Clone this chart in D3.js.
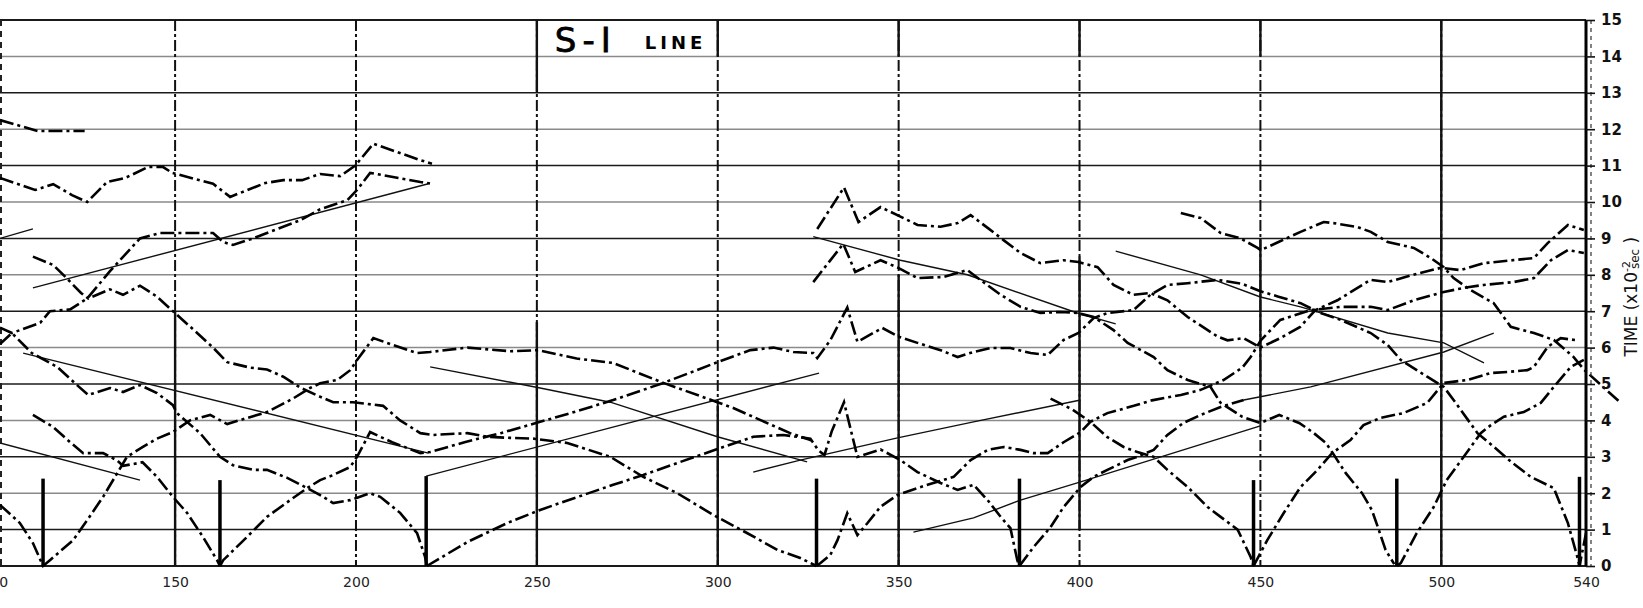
<!DOCTYPE html>
<html>
<head>
<meta charset="utf-8">
<script src="https://cdn.jsdelivr.net/npm/d3@7"></script>
<style>
  body { margin: 0; background: #fff; }
  svg { display: block; }
  .x-axis text { font-family: "DejaVu Sans", sans-serif; font-size: 14px; fill: #222; }
  .y-axis text { font-family: "DejaVu Sans", sans-serif; font-size: 15px; font-weight: bold; fill: #111; }
</style>
</head>
<body>
<svg id="chart"></svg>
<script>
// distance ticks along the bottom, time ticks on the right
const xTicks = [100, 150, 200, 250, 300, 350, 400, 450, 500, 540];
const yTicks = d3.range(0, 16);
const gridX = [150, 200, 250, 300, 350, 400, 450, 500];

// short vertical marks at the bottom (shot points)
const markX = [113.5, 162.4, 219.4, 327.3, 383.4, 448.1, 487.7, 538.2];
const markTop = [2.4, 2.36, 2.47, 2.4, 2.4, 2.36, 2.4, 2.45];

// observed arrivals (dash-dot curves), [distance, time]
const arrA = [[101.6,12.25],[112,11.95],[125,11.95]];
const arrB = [[101.6,10.66],[111.3,10.33],[116.3,10.49],[121.5,10.19],[125.7,10.0],[131.2,10.55],[136.2,10.66],[142.5,10.96],[146.7,10.96],[149.2,10.8],[160.5,10.5],[165.2,10.14],[174.9,10.52],[179.9,10.6],[185.1,10.6],[190.1,10.77],[195.6,10.71],[199.8,11.0],[204.8,11.6],[217.8,11.15],[221,11.05]];
const arrD = [[101.6,6.55],[104.9,6.4],[112.7,6.68],[115.4,7.0],[121,7.05],[125.7,7.35],[132,8.1],[140.3,9.0],[145.9,9.15],[150.5,9.15],[160.5,9.15],[163.3,8.9],[166,8.82],[171.6,9.0],[175.4,9.15],[184.6,9.5],[190.1,9.8],[197.6,10.05],[200.3,10.33],[203.9,10.8],[217.8,10.55],[221,10.5]];
const arrE = [[110.7,8.5],[116.3,8.27],[120.1,7.9],[124,7.5],[126,7.35],[132,7.6],[135.6,7.45],[140.3,7.7],[145,7.4],[149.4,7.0],[155,6.5],[160.5,6.0],[164.4,5.6],[170.7,5.45],[175.4,5.4],[179.9,5.2],[184.6,4.9],[190.1,4.65],[193.7,4.5],[199.2,4.5],[207.5,4.4],[212.2,4.0],[217.8,3.65],[221.3,3.6],[230.8,3.65],[236.3,3.55],[242.6,3.52],[249,3.5],[258.4,3.38],[270.3,3.0],[279.4,2.45],[288.8,2.0],[298.8,1.4],[308.2,0.9],[316.5,0.44],[322.8,0.22],[327.3,0]];
const arrF = [[101.6,6.1],[104.9,6.4],[110.4,5.85],[117.4,5.47],[122.9,4.97],[126,4.7],[132,4.89],[135.6,4.78],[140.3,4.97],[145,4.75],[149.4,4.42],[150.5,4.2],[156.9,3.65],[162.4,3.0],[166,2.77],[171.6,2.64],[175.4,2.64],[181,2.42],[186.5,2.14],[190.1,1.95],[193.7,1.73],[198.4,1.81],[203.9,2.0],[206.7,1.9],[212.2,1.46],[216.9,0.9],[219.1,0.25],[219.6,0]];
const arrG = [[110.7,4.15],[116.3,3.82],[121,3.4],[124.6,3.1],[130.1,3.1],[134,2.9],[135.6,2.75],[141,2.85],[145,2.45],[149.4,1.9],[153.3,1.46],[157.7,0.8],[161.6,0.16],[162.4,0]];
const arrH = [[101.6,1.68],[107.1,1.18],[110.7,0.63],[113.5,0],[115.4,0.16],[121.8,0.71],[125.7,1.26],[130.1,1.9],[134,2.55],[136.7,3.0],[141.1,3.27],[145,3.5],[149.4,3.68],[154.1,4.0],[159.7,4.15],[164.4,3.9],[170,4.07],[175.4,4.23],[182.6,4.6],[187.3,4.89],[190.1,5.02],[194.8,5.11],[198.4,5.38],[200.3,5.66],[204.8,6.26],[210.3,6.07],[216.9,5.85],[220.5,5.88],[230.8,6.0],[242.6,5.9],[250.4,5.93],[261,5.7],[271,5.58],[285,5.03],[299.9,4.5],[304.3,4.34],[312,4.0],[320,3.65],[326,3.45]];
const arrJ = [[162.4,0],[163.3,0.16],[169.9,0.8],[175.4,1.35],[181.8,1.81],[186.5,2.14],[190.1,2.36],[193.7,2.5],[198.4,2.72],[200.3,3.0],[203.9,3.68],[210,3.4],[217.8,3.1],[220.5,3.13],[230,3.4],[240,3.65],[250.9,3.96],[261,4.25],[271.1,4.56],[285,5.03],[299.9,5.6],[309,5.93],[315.4,6.0],[320.9,5.88],[326.4,5.85],[327.5,5.71],[331.1,6.2],[335.8,7.1],[338.6,6.16],[345.5,6.54],[350,6.3],[355.2,6.13],[361.6,5.93],[366.3,5.74],[370.7,5.88],[375.4,5.99],[380.9,5.99],[386.5,5.85],[391.2,5.8],[395.6,6.21],[399.7,6.4],[403.9,6.81],[407.7,6.95],[414.9,7.03],[419.6,7.45],[424.3,7.72],[429.9,7.77],[438.2,7.86],[445,7.75],[450,7.55],[455,7.4],[461.1,7.22],[466.6,6.95],[472.2,6.76],[480.5,6.4],[485.2,6.07],[488.8,5.66],[496.1,5.2],[500.7,4.92],[503.4,4.56],[510,3.65],[514.6,3.27],[519.3,2.86],[524.7,2.45],[531.1,2.14],[535,1.18],[537.6,0.25],[538.2,0],[540,0.9]];
const arrK = [[219.6,0],[230.8,0.66],[241.8,1.18],[250.9,1.54],[262.8,1.95],[271.1,2.23],[279.4,2.5],[288.8,2.83],[300.7,3.24],[309.8,3.55],[318.1,3.6],[325.6,3.5],[327.8,3.18],[329.5,3.05],[331.5,3.7],[334.9,4.5],[338.6,3.0],[345,3.2],[350.5,2.91],[355.2,2.58],[361.6,2.28],[366.3,2.09],[370.7,2.23],[374.6,1.81],[378.2,1.35],[380.9,1.04],[382.8,0.16],[383.4,0]];
const arrM = [[327.3,0],[328.4,0.08],[331.1,0.3],[333.1,0.71],[335.8,1.45],[338.6,0.85],[341.4,1.18],[345,1.63],[349.7,1.95],[355.2,2.14],[359.6,2.28],[365.2,2.45],[369.9,2.91],[374.6,3.19],[379,3.27],[383.7,3.19],[387.3,3.1],[391.2,3.1],[395.6,3.4],[400.3,3.68],[403,3.96],[407.7,4.2],[415,4.4],[420,4.55],[428,4.7],[433.5,4.84],[439.8,5.11],[445,5.45],[447.3,5.74],[450.1,6.2],[455.5,6.76],[463.9,7.03],[472.2,7.12],[480.5,7.12],[485.2,7.03],[492.4,7.3],[500.7,7.53],[507.3,7.66],[511.7,7.72],[520,7.8],[525.6,7.91],[530.3,8.4],[535,8.68],[539.4,8.6]];
const arrN = [[327.5,9.26],[334.9,10.4],[338.9,9.45],[345,9.86],[350.5,9.6],[355.2,9.37],[361.6,9.32],[366.3,9.42],[369.9,9.64],[374.6,9.29],[378.9,8.96],[383.7,8.6],[389.2,8.32],[395.6,8.4],[399.7,8.35],[405,8.21],[409.4,7.72],[414.9,7.45],[419.6,7.5],[424.3,7.3],[429.9,6.84],[438.2,6.3],[440.9,6.2],[445.4,6.26],[450,6.0],[455.5,6.26],[461,6.57],[465.2,7.03],[471.3,7.3],[480.4,7.86],[485.1,7.8],[492.3,8.0],[499.8,8.19],[505.3,8.13],[511.8,8.32],[525.6,8.46],[529.4,8.87],[535,9.37],[539.4,9.23]];
const arrP = [[428,9.7],[433.5,9.56],[439,9.15],[444.5,9.0],[449.2,8.74],[450.1,8.68],[455,8.9],[461.1,9.18],[467.5,9.45],[470.2,9.42],[476.9,9.31],[480.5,9.18],[485.2,8.9],[492.4,8.74],[497.1,8.46],[500.7,8.21],[503.4,7.91],[508.1,7.58],[514.5,7.22],[519.2,6.57],[525.6,6.4],[531.1,6.21],[536.6,5.74],[539.4,5.4],[549.6,4.48]];
const arrQ = [[326.4,7.8],[334.7,8.85],[338,8.08],[345,8.4],[349.9,8.19],[355.2,7.91],[362.4,7.94],[369,8.13],[372.6,7.86],[378.2,7.45],[383.7,7.12],[389.2,6.95],[394.7,6.98],[399.4,6.95],[403.9,6.84],[409.4,6.48],[413.3,6.13],[420.5,5.74],[424.3,5.38],[429.9,5.11],[436.2,4.92],[439,4.48],[445,4.1],[450,3.93],[455.2,4.15],[460.7,3.93],[464.4,3.68],[468.1,3.38],[469.8,3.13],[473.6,2.55],[478.1,2.0],[480.8,1.54],[482.7,1.0],[484.6,0.44],[487,0.05]];
const arrR = [[383.4,0],[387.3,0.52],[392,1.07],[395.6,1.62],[400.3,2.17],[403.9,2.45],[407.7,2.64],[413.3,2.91],[416,3.0],[420.5,3.19],[424.3,3.6],[428.7,3.93],[433.5,4.15],[439,4.37],[445.4,4.56]];
const arrS = [[392,4.6],[398,4.3],[403,3.96],[407.7,3.54],[412.2,3.27],[416,3.13],[420.5,3.0],[424.3,2.64],[429.9,2.17],[435.4,1.62],[439,1.35],[443.7,1.0],[447.3,0.25],[448.1,0]];
const arrT = [[448.1,0],[451.9,0.71],[456.4,1.45],[461.1,2.17],[465.8,2.64],[469.8,3.1],[474.9,3.46],[478.5,3.87],[483.2,4.07],[489.5,4.2],[496.1,4.48],[500.7,5.03],[507.3,5.11],[513.6,5.3],[518.3,5.33],[523.8,5.38],[525.6,5.47],[529.4,6.02],[533,6.26],[537.6,6.2]];
const arrU = [[487.7,0],[488.8,0.08],[493.2,0.9],[497.9,1.62],[501.5,2.36],[506.2,3.0],[510.9,3.65],[513.7,3.87],[517.3,4.1],[522.8,4.23],[527.5,4.48],[531.1,4.92],[535.8,5.47],[539.4,5.66]];

// fitted travel-time lines (thin solid)
const fit0 = [[101.6,9.0],[110.7,9.26]];
const fit1 = [[110.7,7.64],[220,10.5]];
const fit2 = [[108,5.85],[220,3.1]];
const fit3 = [[101.6,3.38],[140.3,2.36]];
const fit4 = [[219.4,2.47],[328,5.3]];
const fit5 = [[220.5,5.47],[250.9,4.89],[270.3,4.5],[299.9,3.55],[324.7,2.86]];
const fit6 = [[309.8,2.58],[322.8,2.91],[349.7,3.52],[370.7,3.96],[400.3,4.56]];
const fit7 = [[326.4,9.05],[350.5,8.4],[369,8.0],[399.4,6.95],[410,6.65]];
const fit8 = [[410,8.65],[433.5,8.0],[450,7.39],[461.1,7.12],[485.2,6.4],[500.7,6.13],[511.8,5.58]];
const fit9 = [[445.4,4.56],[463.9,4.92],[500.7,5.88],[514.5,6.4]];
const fit10 = [[354.1,0.93],[370.7,1.32],[383.7,1.81],[400.3,2.31],[450,3.85]];

const arrivals = [arrA, arrB, arrD, arrE, arrF, arrG, arrH, arrJ, arrK, arrM, arrN, arrP, arrQ, arrR, arrS, arrT, arrU];
const fits = [fit0, fit1, fit2, fit3, fit4, fit5, fit6, fit7, fit8, fit9, fit10];

const W = 1643, H = 608;

const svg = d3.select('#chart')
    .attr('width', W)
    .attr('height', H);

const x = d3.scaleLinear().domain([101.6, 540]).range([0, 1586]);
const y = d3.scaleLinear().domain([0, 15]).range([566, 20]);

const chart = svg.append('g');

// horizontal grid, every unit; the scan makes every other line grey
chart.append('g').selectAll('line')
    .data(yTicks)
  .join('line')
    .attr('x1', 0)
    .attr('x2', x(540))
    .attr('y1', d => y(d))
    .attr('y2', d => y(d))
    .attr('stroke', d => (d % 2 === 0 && d !== 0 && d !== 15) ? '#8a8a8a' : '#1a1a1a')
    .attr('stroke-width', d => (d === 0 || d === 15) ? 2 : 1.5);

// vertical grid: dashed everywhere, then solid pieces where the ink is solid
const solidParts = {
    150: [[0, 7]],
    200: [],
    250: [[0, 6.7], [13, 15]],
    300: [[0, 4.4], [14, 15]],
    350: [[0, 8], [14, 15]],
    400: [[1, 8.5], [14, 15]],
    450: [[4, 9], [14, 15]],
    500: [[0, 15]]
};

chart.append('g').selectAll('line')
    .data(gridX)
  .join('line')
    .attr('x1', d => x(d))
    .attr('x2', d => x(d))
    .attr('y1', y(15))
    .attr('y2', y(0))
    .attr('stroke', '#111')
    .attr('stroke-width', 2)
    .attr('stroke-dasharray', '11,3,3,3');

const solidSegs = gridX.flatMap(v => solidParts[v].map(s => ({v: v, a: s[0], b: s[1]})));
chart.append('g').selectAll('line')
    .data(solidSegs)
  .join('line')
    .attr('x1', d => x(d.v))
    .attr('x2', d => x(d.v))
    .attr('y1', d => y(d.b))
    .attr('y2', d => y(d.a))
    .attr('stroke', '#111')
    .attr('stroke-width', 2.4);

// left border, cut off in the scan
chart.append('line')
    .attr('x1', 1).attr('x2', 1)
    .attr('y1', y(15)).attr('y2', y(0))
    .attr('stroke', '#222')
    .attr('stroke-width', 2)
    .attr('stroke-dasharray', '6,5');

// title inside the 250-300 / 14-15 cell
const title = chart.append('text')
    .attr('x', x(250) + 18)
    .attr('y', y(14) - 4)
    .style('font-family', '"DejaVu Sans", sans-serif')
    .attr('fill', '#000');
title.append('tspan')
    .style('font-size', '34px')
    .attr('stroke', '#000')
    .attr('stroke-width', 0.8)
    .attr('letter-spacing', 6)
    .text('S-I');
title.append('tspan')
    .attr('dx', 28)
    .attr('dy', -3)
    .style('font-size', '18px')
    .style('font-weight', 'bold')
    .attr('letter-spacing', 4)
    .text('LINE');

const line = d3.line()
    .x(d => x(d[0]))
    .y(d => y(d[1]));

// fitted straight lines
chart.append('g').selectAll('path')
    .data(fits)
  .join('path')
    .attr('d', line)
    .attr('fill', 'none')
    .attr('stroke', '#111')
    .attr('stroke-width', 1.4);

// observed arrival curves
chart.append('g').selectAll('path')
    .data(arrivals)
  .join('path')
    .attr('d', line)
    .attr('fill', 'none')
    .attr('stroke', '#000')
    .attr('stroke-width', 2.6)
    .attr('stroke-dasharray', '14,4,3,4');

// shot point marks
chart.append('g').selectAll('line')
    .data(markX)
  .join('line')
    .attr('x1', d => x(d))
    .attr('x2', d => x(d))
    .attr('y1', y(0))
    .attr('y2', (d, i) => y(markTop[i]))
    .attr('stroke', '#000')
    .attr('stroke-width', 3.5);

// bottom distance labels
const xAxis = d3.axisBottom(x)
    .tickValues(xTicks)
    .tickSize(0)
    .tickPadding(11);
chart.append('g')
    .attr('class', 'x-axis')
    .attr('transform', `translate(0,${y(0)})`)
    .call(xAxis)
    .call(g => g.select('.domain').remove());

// right time axis
chart.append('line')
    .attr('x1', x(540)).attr('x2', x(540))
    .attr('y1', y(15)).attr('y2', y(0))
    .attr('stroke', '#000')
    .attr('stroke-width', 3);
chart.append('line')
    .attr('x1', x(540) + 5).attr('x2', x(540) + 5)
    .attr('y1', y(15)).attr('y2', y(0))
    .attr('stroke', '#333')
    .attr('stroke-width', 1.2)
    .attr('stroke-dasharray', '4,4');

const yAxis = d3.axisRight(y)
    .tickValues(yTicks)
    .tickSize(9)
    .tickPadding(6);
chart.append('g')
    .attr('class', 'y-axis')
    .attr('transform', `translate(${x(540)},0)`)
    .call(yAxis)
    .call(g => g.select('.domain').remove())
    .call(g => g.selectAll('.tick line').attr('stroke', '#111').attr('stroke-width', 1.6));

// axis title, rotated
const yTitle = svg.append('text')
    .attr('transform', `translate(1637,${y(7.4)}) rotate(-90)`)
    .attr('text-anchor', 'middle')
    .style('font-family', '"DejaVu Sans", sans-serif')
    .style('font-size', '17px')
    .attr('fill', '#111');
yTitle.append('tspan').text('TIME  (x10');
yTitle.append('tspan').attr('dy', -7).style('font-size', '11px').text('-2');
yTitle.append('tspan').attr('dy', 9).attr('dx', -8).style('font-size', '12px').text('sec');
yTitle.append('tspan').attr('dy', -2).text(' )');
</script>
</body>
</html>
